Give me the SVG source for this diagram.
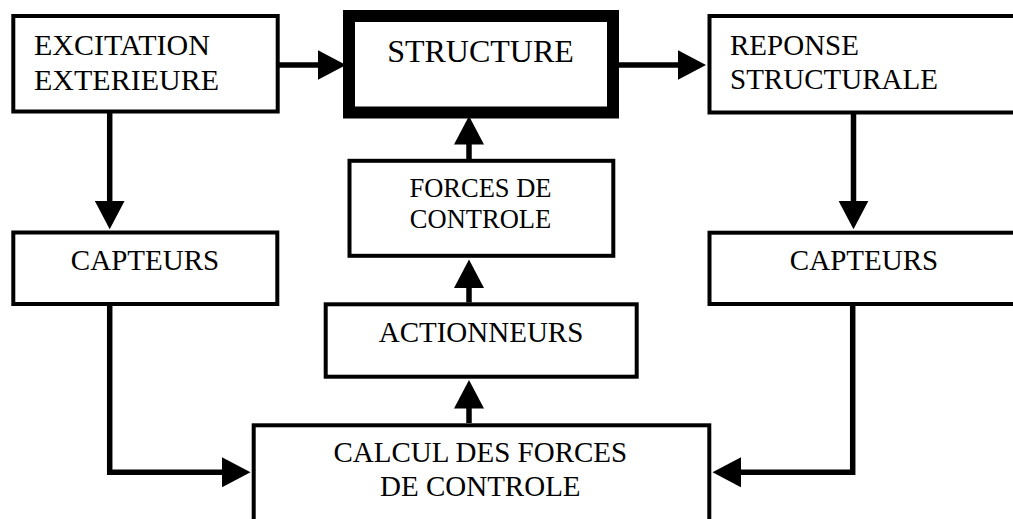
<svg xmlns="http://www.w3.org/2000/svg" width="1013" height="519" viewBox="0 0 1013 519">
  <style>
    .box { fill: #ffffff; stroke: #000000; stroke-width: 4; }
    .thick { stroke-width: 12; }
    .lbl { font-family: "Liberation Serif", "Times New Roman", serif; font-size: 29px; fill: #000000; }
    .mid { text-anchor: middle; }
    .small { font-size: 26.5px; }
    .big { font-size: 32px; }
    .wide { font-size: 30px; }
    .conn { fill: none; stroke: #000000; stroke-width: 5.5; stroke-linejoin: miter; }
  </style>
  <defs>
    <marker id="arrow" markerUnits="userSpaceOnUse" viewBox="0 -15 29 30" refX="1" refY="0" markerWidth="29" markerHeight="30" orient="auto">
      <path d="M0,-15 L28.5,0 L0,15 Z" fill="#000000"/>
    </marker>
  </defs>
  <rect width="1013" height="519" fill="#ffffff"/>

  <g id="connectors">
    <path class="conn" d="M279,65 H318.5" marker-end="url(#arrow)"/>
    <path class="conn" d="M619,65 H678.5" marker-end="url(#arrow)"/>
    <path class="conn" d="M109.7,113 V201.7" marker-end="url(#arrow)"/>
    <path class="conn" d="M853.5,114 V201.7" marker-end="url(#arrow)"/>
    <path class="conn" d="M109.7,305 V472.3 H223" marker-end="url(#arrow)"/>
    <path class="conn" d="M852.7,305 V472.3 H740" marker-end="url(#arrow)"/>
    <path class="conn" d="M469,423 V407.5" marker-end="url(#arrow)"/>
    <path class="conn" d="M469,302.5 V287" marker-end="url(#arrow)"/>
    <path class="conn" d="M469,159 V143.5" marker-end="url(#arrow)"/>
  </g>

  <g id="excitation">
    <rect class="box" x="13.3" y="16" width="264.4" height="95.5"/>
    <text class="lbl wide" x="34" y="55">EXCITATION</text>
    <text class="lbl wide" x="34" y="90">EXTERIEURE</text>
  </g>

  <g id="structure">
    <rect class="box thick" x="349" y="16" width="264" height="96.5"/>
    <text class="lbl big mid" x="480.5" y="61.7">STRUCTURE</text>
  </g>

  <g id="reponse">
    <rect class="box" x="709.5" y="16" width="320" height="96.5"/>
    <text class="lbl" x="730" y="55">REPONSE</text>
    <text class="lbl" x="730" y="89">STRUCTURALE</text>
  </g>

  <g id="capteurs-gauche">
    <rect class="box" x="13.3" y="232.5" width="264" height="71.5"/>
    <text class="lbl mid" x="145" y="270">CAPTEURS</text>
  </g>

  <g id="capteurs-droite">
    <rect class="box" x="709.5" y="232.7" width="320" height="71.3"/>
    <text class="lbl mid" x="864" y="270">CAPTEURS</text>
  </g>

  <g id="forces">
    <rect class="box" x="349.5" y="160.8" width="263.8" height="95"/>
    <text class="lbl small mid" x="480.5" y="196.7">FORCES DE</text>
    <text class="lbl small mid" x="480.5" y="227.7">CONTROLE</text>
  </g>

  <g id="actionneurs">
    <rect class="box" x="325.7" y="304.3" width="311" height="72.4"/>
    <text class="lbl mid" x="481" y="341.7">ACTIONNEURS</text>
  </g>

  <g id="calcul">
    <rect class="box" x="253.7" y="425.3" width="455.6" height="95.8"/>
    <text class="lbl mid" x="480.3" y="462.3">CALCUL DES FORCES</text>
    <text class="lbl mid" x="480.3" y="496">DE CONTROLE</text>
  </g>
</svg>
